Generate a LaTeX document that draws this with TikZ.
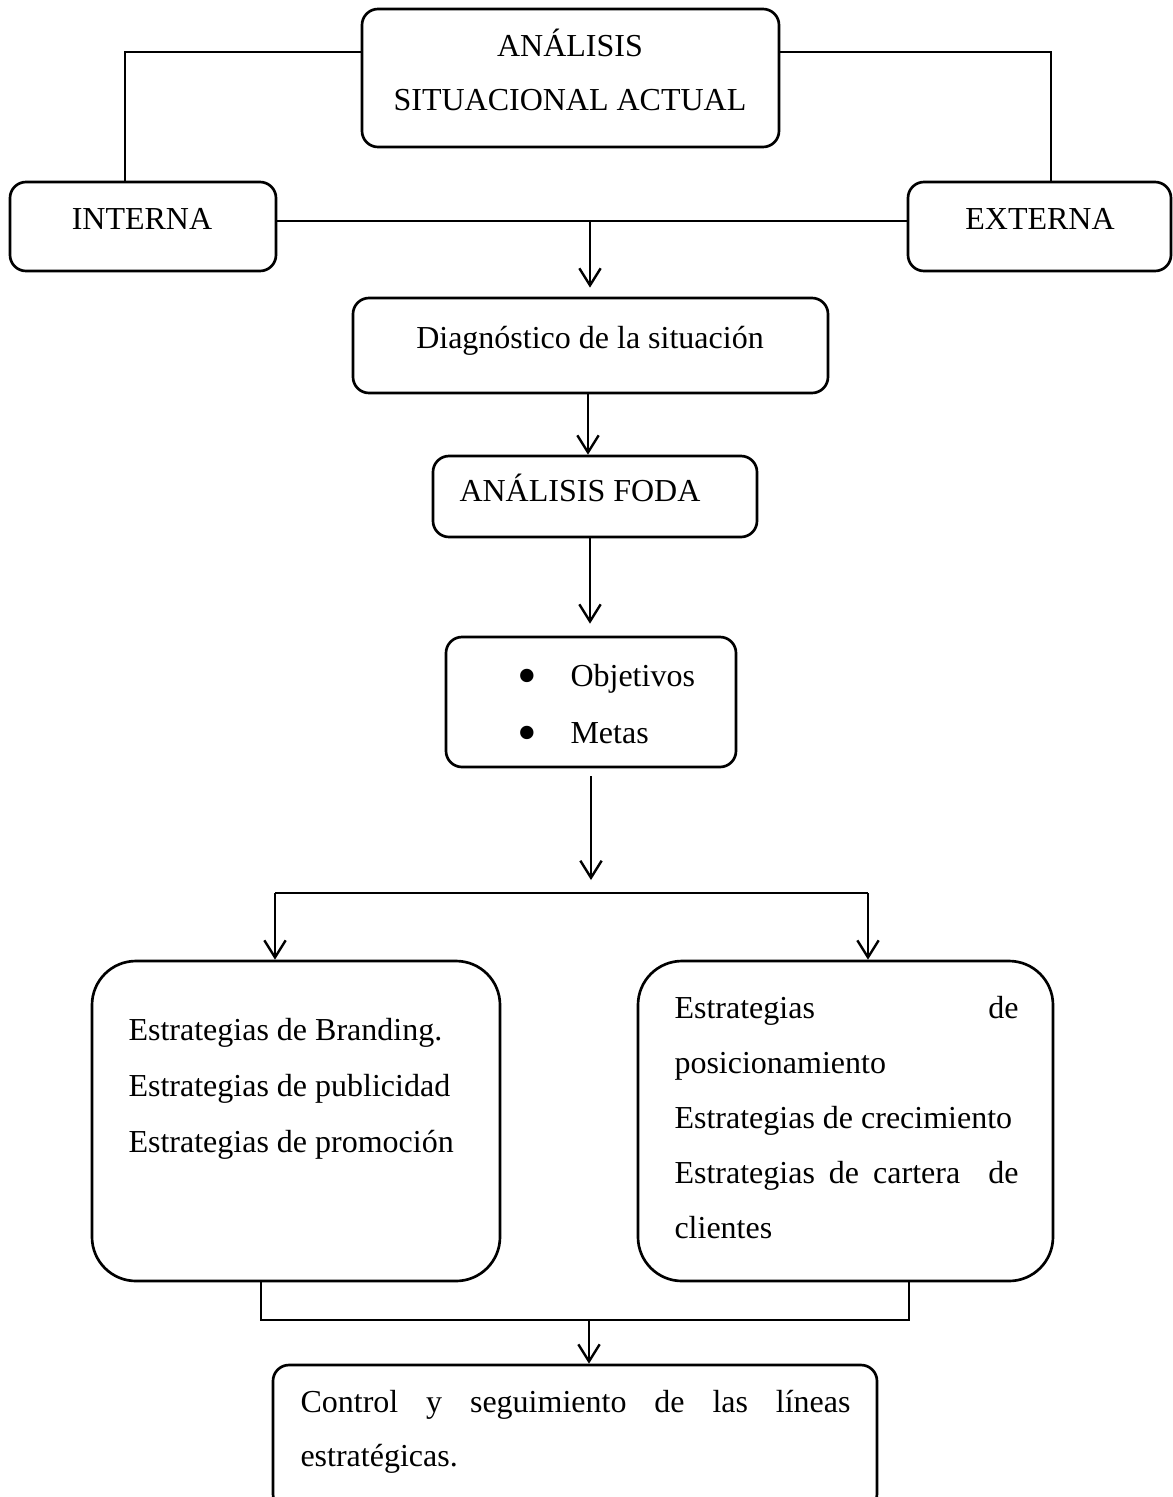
\documentclass[tikz,border=0pt]{standalone}
\usepackage{fontspec}
\setmainfont{Liberation Serif}
\usetikzlibrary{arrows.meta,fit}

\newcommand{\bigdot}{{\fontsize{21}{21}\selectfont\raisebox{-3.1pt}{\textbullet}}}

\begin{document}
\begin{tikzpicture}[x=0.375pt,y=-0.375pt,
  font=\fontsize{12}{21}\selectfont,
  box/.style={draw,line width=1pt,rounded corners=6pt,inner sep=0pt},
  bigbox/.style={box,rounded corners=16.5pt},
  link/.style={line width=0.55pt},
  arr/.style={line width=0.9pt,-{Straight Barb[length=6.4pt,width=8pt]}},
  lt/.style={inner sep=0pt,anchor=base west},
  ct/.style={inner sep=0pt,anchor=base}]
\useasboundingbox (0,0) rectangle (1173,1497);

% boxes
\node[box,fit={(362,9) (779,147)}] (b1) {};
\node[box,fit={(10,182) (276,271)}] (int) {};
\node[box,fit={(908,182) (1171,271)}] (ext) {};
\node[box,fit={(353,298) (828,393)}] (diag) {};
\node[box,fit={(433,456) (757,537)}] (foda) {};
\node[box,fit={(446,637) (736,767)}] (obj) {};
\node[bigbox,fit={(92,961) (500,1281)}] (lb) {};
\node[bigbox,fit={(638,961) (1053,1281)}] (rb) {};
\node[box,fit={(273,1365) (877,1510)}] (ctrl) {};

% texts
\node[ct] (t1a) at (570,56) {ANÁLISIS};
\node[ct] (t1b) at (570,110) {SITUACIONAL ACTUAL};
\node[ct] (tint) at (142,229) {INTERNA};
\node[ct] (text) at (1040,229) {EXTERNA};
\node[ct] (tdiag) at (590,348) {Diagnóstico de la situación};
\node[lt] (tfoda) at (459,501) {ANÁLISIS FODA};
\node[ct] (bu1) at (527,686) {\bigdot};
\node[lt] (tob) at (570,686) {Objetivos};
\node[ct] (bu2) at (527,743) {\bigdot};
\node[lt] (tme) at (570,743) {Metas};
\node[lt] (l1) at (128,1040) {Estrategias de Branding.};
\node[lt] (l2) at (128,1096) {Estrategias de publicidad};
\node[lt] (l3) at (128,1152) {Estrategias de promoción};
\node[lt] (r1) at (674,1018) {\makebox[129pt][s]{Estrategias de}};
\node[lt] (r2) at (674,1073) {posicionamiento};
\node[lt] (r3) at (674,1128) {Estrategias de crecimiento};
\node[lt] (r4) at (674,1183) {\makebox[129pt][s]{Estrategias de cartera \ de}};
\node[lt] (r5) at (674,1238) {clientes};
\node[lt] (c1) at (300,1412) {\makebox[206.25pt][s]{Control y seguimiento de las líneas}};
\node[lt] (c2) at (300,1466) {estratégicas.};

% junction points
\coordinate (j1) at (590,221);
\coordinate (j2) at (591,776);
\coordinate (j3) at (591,880);
\coordinate (fl) at (275,893);
\coordinate (fr) at (868,893);
\coordinate (bl) at (261,1320);
\coordinate (br) at (909,1320);
\coordinate (bm) at (589,1320);

% connectors
\draw[link] (b1.west |- 0,52) -| (int.north -| 125,0);
\draw[link] (b1.east |- 0,52) -| (ext.north -| 1051,0);
\draw[link] (int.east |- j1) -- (ext.west |- j1);
\draw[arr,shorten >=3.4pt] (j1) -- (diag.north -| j1);
\draw[arr] (diag.south -| 588,0) -- (foda.north -| 588,0);
\draw[arr,shorten >=4.5pt] (foda.south -| 590,0) -- (obj.north -| 590,0);
\draw[arr] (j2) -- (j3);
\draw[link] (fl) -- (fr);
\draw[arr] (fl) -- (lb.north -| fl);
\draw[arr] (fr) -- (rb.north -| fr);
\draw[link] (lb.south -| bl) -- (bl) -- (br) -- (rb.south -| br);
\draw[arr] (bm) -- (ctrl.north -| bm);
\end{tikzpicture}
\end{document}
